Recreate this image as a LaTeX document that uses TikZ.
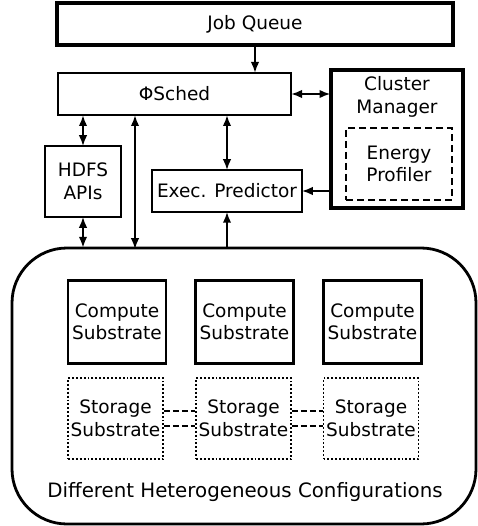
\documentclass[tikz,border=0pt]{standalone}
\usepackage{fontspec}
\setmainfont{DejaVu Sans}
\usepackage{tikz}
\usetikzlibrary{positioning,arrows.meta,calc}

\tikzset{
  box/.style={draw,rectangle,inner sep=0pt,align=center,line width=1.9pt},
  bold box/.style={box,line width=3.4pt},
  flow/.style={line width=2pt,shorten >=-1.2pt,-{Latex[length=11pt,width=8.5pt]}},
  dflow/.style={line width=2pt,shorten >=-1.2pt,shorten <=-1.2pt,{Latex[length=11pt,width=8.5pt]}-{Latex[length=11pt,width=8.5pt]}}
}

\begin{document}
\begin{tikzpicture}[x=1pt,y=-1pt,font=\fontsize{18.5}{22.5}\selectfont]
\useasboundingbox (0,0) rectangle (477,526);
% top row
\node[bold box,minimum width=396pt,minimum height=42pt] (queue) at (255,24) {Job Queue};
\node[box,line width=2.4pt,minimum width=233pt,minimum height=42pt] (sched) at (174.5,94) {ΦSched};
\node[bold box,minimum width=132pt,minimum height=138pt] (manager) at (397,139) {};
\node (managerlbl) at (397,97) [align=center] {Cluster\\Manager};
\node[box,dashed,dash pattern=on 7pt off 4pt,minimum width=106pt,minimum height=72pt] (energy) at (399,164) {Energy\\Profiler};
% middle row
\node[box,minimum width=76pt,minimum height=71pt] (hdfs) at (83,181.5) {HDFS\\APIs};
\node[box,minimum width=150pt,minimum height=42pt] (exec) at (227,191) {Exec. Predictor};
% heterogeneous configurations
\node[draw,line width=2.8pt,rounded corners=55pt,minimum width=464pt,minimum height=276pt] (cfg) at (244,386) {};
\foreach \n/\x in {1/117,2/244.5,3/372.5}{
  \node[box,line width=2.4pt,minimum width=98pt,minimum height=83pt] (comp\n) at (\x,322) {Compute\\Substrate};
}
\foreach \n/\x in {1/115.5,2/243.5,3/371}{
  \node[box,dotted,line width=1.9pt,minimum width=95pt,minimum height=81pt] (stor\n) at (\x,418.5) {Storage\\Substrate};
}
\foreach \a/\b in {1/2,2/3}{
  \draw[dashed,line width=1.9pt,dash pattern=on 6pt off 3pt] ($(stor\a.east)+(0,-7.5)$) -- ($(stor\b.west)+(0,-7.5)$);
  \draw[dashed,line width=1.9pt,dash pattern=on 6pt off 3pt] ($(stor\a.east)+(0,7.5)$) -- ($(stor\b.west)+(0,7.5)$);
}
\node[font=\fontsize{19.8}{24}\selectfont] (cfglbl) at (245,492) {Different Heterogeneous Configurations};
% connectors
\coordinate (bus) at (135,248);
\draw[flow] (queue.south) -- (queue.south |- sched.north);
\draw[dflow] (sched.east) -- (sched.east -| manager.west);
\draw[dflow] (sched.south -| hdfs.north) -- (hdfs.north);
\draw[dflow] (hdfs.south) -- (hdfs.south |- cfg.north);
\draw[dflow] (bus |- sched.south) -- (bus);
\draw[dflow] (sched.south -| exec.north) -- (exec.north);
\draw[flow] (exec.south |- cfg.north) -- (exec.south);
\draw[flow] (manager.west |- exec.east) -- (exec.east);
\end{tikzpicture}
\end{document}
